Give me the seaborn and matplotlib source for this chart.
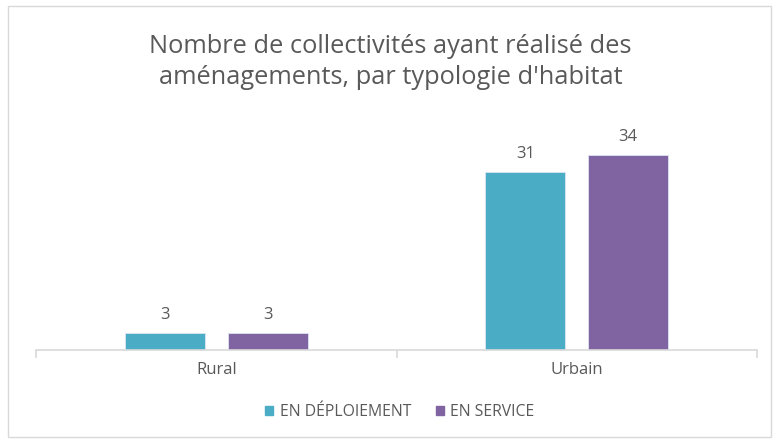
import pandas as pd
import matplotlib.pyplot as plt
import seaborn as sns
from matplotlib.patches import Rectangle

# data
categories = ['Rural', 'Urbain']
series_names = ['EN DÉPLOIEMENT', 'EN SERVICE']
en_deploiement = [3, 31]
en_service = [3, 34]

colors = ['#4BACC6', '#8064A2']
text_color = '#595959'

df = pd.DataFrame({
    'typologie': categories * 2,
    'statut': [series_names[0]] * 2 + [series_names[1]] * 2,
    'valeur': en_deploiement + en_service,
})

sns.set_theme(style='white')
plt.rcParams['font.family'] = ['Open Sans', 'DejaVu Sans']

fig = plt.figure(figsize=(7.81, 4.43), dpi=100)
ax = fig.add_axes([36 / 781, 1 - 350 / 443, (757 - 36) / 781, 230 / 443])

sns.barplot(data=df, x='typologie', y='valeur', hue='statut',
            palette=colors, saturation=1, width=0.572, gap=0.223, ax=ax,
            legend=False, edgecolor='#dbe5f1', linewidth=0.6)

ax.set_xlim(-0.5, 1.5)
ax.set_ylim(0, 40)
ax.set_xlabel('')
ax.set_ylabel('')
ax.set_yticks([])
for side in ['top', 'right', 'left']:
    ax.spines[side].set_visible(False)
ax.spines['bottom'].set_color('#d9d9d9')
ax.spines['bottom'].set_linewidth(1.2)

ax.set_xticks([0, 1])
ax.set_xticklabels(categories, color=text_color, fontsize=12)
ax.set_xticks([-0.5, 0.5, 1.5], minor=True)
ax.tick_params(axis='x', which='major', length=0, pad=9)
ax.tick_params(axis='x', which='minor', length=6, width=1.2, color='#d9d9d9', bottom=True)

for cont in ax.containers:
    ax.bar_label(cont, color=text_color, fontsize=12, padding=7)

fig.text(0.5, 1 - 62 / 443, "Nombre de collectivités ayant réalisé des\naménagements, par typologie d'habitat",
         ha='center', va='center', fontsize=18.3, color=text_color, linespacing=1.3)

handles = [Rectangle((0, 0), 1, 1, color=c) for c in colors]
fig.legend(handles, series_names, loc='center', bbox_to_anchor=(0.512, 1 - 412 / 443),
           ncol=2, frameon=False, fontsize=11.3, labelcolor=text_color,
           handlelength=0.5, handleheight=0.5, handletextpad=0.4, columnspacing=1.6)

fig.patches.append(Rectangle((8 / 781, 6 / 443), (771 - 8) / 781, (437 - 6) / 443,
                             transform=fig.transFigure, fill=False,
                             edgecolor='#d9d9d9', linewidth=1))

fig.savefig('out.png', dpi=100)
